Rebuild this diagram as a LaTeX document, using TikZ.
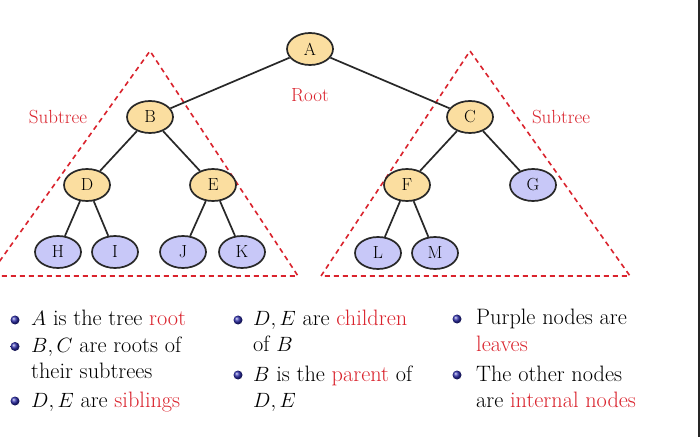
\documentclass[tikz,border=0pt]{standalone}
\usetikzlibrary{shapes.geometric,shadings}
\definecolor{nodeorange}{RGB}{251,222,160}
\definecolor{nodepurple}{RGB}{200,200,248}
\definecolor{edgegray}{RGB}{40,40,40}
\definecolor{tred}{RGB}{218,35,45}
\definecolor{ballblue}{RGB}{45,45,170}
\tikzset{
  tnode/.style={ellipse, draw=edgegray, line width=1.7bp, minimum width=46bp, minimum height=32bp, inner sep=0pt, font=\fontsize{17.5bp}{20bp}\selectfont},
  inner/.style={tnode, fill=nodeorange},
  leaf/.style={tnode, fill=nodepurple},
  edge/.style={draw=edgegray, line width=1.7bp},
  subtri/.style={draw=tred, line width=1.6bp, dash pattern=on 5bp off 4bp},
  lbl/.style={text=tred, font=\fontsize{19bp}{22bp}\selectfont, inner sep=0pt},
  txt/.style={anchor=base west, inner sep=0pt, font=\fontsize{22.3bp}{26bp}\selectfont},
  bul/.style={ball color=ballblue}
}
\begin{document}
\begin{tikzpicture}[x=1bp,y=-1bp]
\clip (0,0) rectangle (700,437);
\fill[white] (0,0) rectangle (700,437);
% subtree triangles
\coordinate (t1l) at (-11,276);
\coordinate (t1a) at (150,51);
\coordinate (t1r) at (298,276);
\coordinate (t2l) at (321,276);
\coordinate (t2a) at (470,51);
\coordinate (t2r) at (630,276);
\draw[subtri] (t1l) -- (t1a) -- (t1r) -- cycle;
\draw[subtri] (t2l) -- (t2a) -- (t2r) -- cycle;
% nodes
\node[inner] (A) at (310,49) {A};
\node[inner] (B) at (150,117) {B};
\node[inner] (C) at (470,117) {C};
\node[inner] (D) at (87,185) {D};
\node[inner] (E) at (213,185) {E};
\node[inner] (F) at (407,185) {F};
\node[leaf] (G) at (533,185) {G};
\node[leaf] (H) at (58,252) {H};
\node[leaf] (I) at (115,252) {I};
\node[leaf] (J) at (183,252) {J};
\node[leaf] (K) at (242,252) {K};
\node[leaf] (L) at (378,253) {L};
\node[leaf] (M) at (435,253) {M};
% edges
\draw[edge] (A) -- (B);
\draw[edge] (A) -- (C);
\draw[edge] (B) -- (D);
\draw[edge] (B) -- (E);
\draw[edge] (C) -- (F);
\draw[edge] (C) -- (G);
\draw[edge] (D) -- (H);
\draw[edge] (D) -- (I);
\draw[edge] (E) -- (J);
\draw[edge] (E) -- (K);
\draw[edge] (F) -- (L);
\draw[edge] (F) -- (M);
% labels
\node[lbl] (sub1) at (58,117) {Subtree};
\node[lbl] (root) at (310,95) {Root};
\node[lbl] (sub2) at (561,117) {Subtree};
% column 1
\shade[bul] (15,320) circle (4.5);
\shade[bul] (15,346.5) circle (4.5);
\shade[bul] (15,401) circle (4.5);
\node[txt] (c1a) at (31,326) {$A$ is the tree \textcolor{tred}{root}};
\node[txt] (c1b) at (31,352.5) {$B,C$ are roots of};
\node[txt] (c1c) at (31,378) {their subtrees};
\node[txt] (c1d) at (31,407) {$D,E$ are \textcolor{tred}{siblings}};
% column 2
\shade[bul] (238,320) circle (4.5);
\shade[bul] (238,375) circle (4.5);
\node[txt] (c2a) at (253,326) {$D,E$ are \textcolor{tred}{children}};
\node[txt] (c2b) at (253,351) {of $B$};
\node[txt] (c2c) at (253,381) {$B$ is the \textcolor{tred}{parent} of};
\node[txt] (c2d) at (253,407) {$D,E$};
% column 3
\shade[bul] (457,319) circle (4.5);
\shade[bul] (457,375) circle (4.5);
\node[txt] (c3a) at (476,325) {Purple nodes are};
\node[txt] (c3b) at (476,351) {\textcolor{tred}{leaves}};
\node[txt] (c3c) at (476,381) {The other nodes};
\node[txt] (c3d) at (476,407) {are \textcolor{tred}{internal nodes}};
% right frame edge
\draw[line width=2bp, black!85] (698.5,0) -- (698.5,437);
\end{tikzpicture}
\end{document}
